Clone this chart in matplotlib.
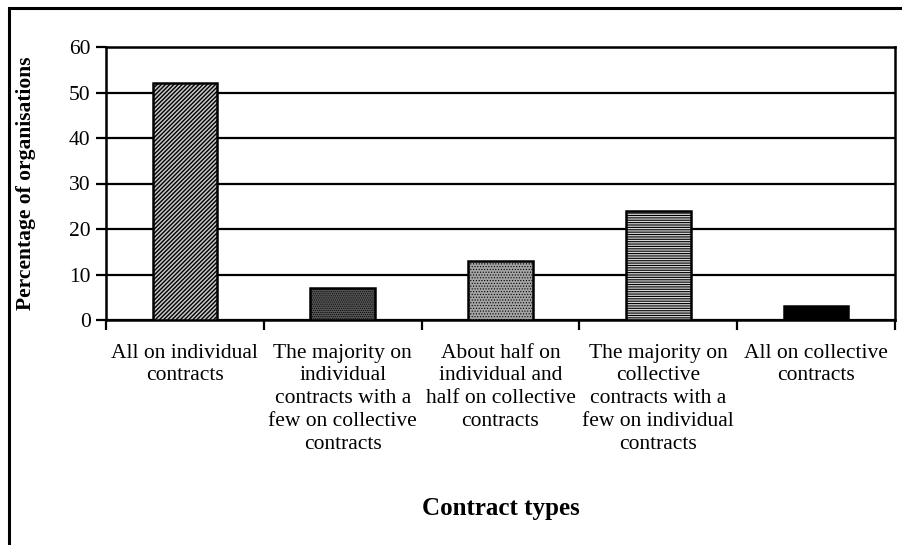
import matplotlib.pyplot as plt
from matplotlib.patches import Rectangle

# Survey result: share of organisations by contract arrangement
categories = [
    "All on individual\ncontracts",
    "The majority on\nindividual\ncontracts with a\nfew on collective\ncontracts",
    "About half on\nindividual and\nhalf on collective\ncontracts",
    "The majority on\ncollective\ncontracts with a\nfew on individual\ncontracts",
    "All on collective\ncontracts",
]
percentages = [52, 7, 13, 24, 3]
y_ticks = [0, 10, 20, 30, 40, 50, 60]

# fill / hatch per bar (black-and-white print style)
face_colors = ["#c8c8c8", "#555555", "#a4a4a4", "#d6d6d6", "black"]
hatches = ["////////", "........", "......", "-------", None]
hatch_widths = [1.0, 0.5, 0.5, 0.8, 0.5]

plt.rcParams["font.family"] = ["Liberation Serif", "DejaVu Serif"]
plt.rcParams["hatch.linewidth"] = 0.9

fig = plt.figure(figsize=(9.03, 5.45), dpi=100)
ax = fig.add_axes([106 / 903, 1 - 320 / 545, (895 - 106) / 903, (320 - 47) / 545])

x = list(range(len(categories)))
bars = ax.bar(x, percentages, width=0.41, color=face_colors, edgecolor="black",
              linewidth=1.8, zorder=3)
for bar, h, hw in zip(bars, hatches, hatch_widths):
    if h:
        bar.set_hatch(h)
        if hasattr(bar, "set_hatch_linewidth"):
            bar.set_hatch_linewidth(hw)

ax.set_xlim(-0.5, len(categories) - 0.5)
ax.set_ylim(0, 60)
ax.set_yticks(y_ticks)
ax.yaxis.grid(True, color="black", linewidth=1.6, zorder=1)
ax.set_axisbelow(True)

# labels centred under bars, tick marks on category boundaries
ax.set_xticks(x)
ax.set_xticklabels(categories, fontsize=15.5, linespacing=1.27)
ax.set_xticks([i - 0.5 for i in range(len(categories) + 1)], minor=True)
ax.tick_params(axis="x", which="major", length=0, pad=17)
ax.tick_params(axis="x", which="minor", length=7, width=1.6, direction="out")
ax.tick_params(axis="y", length=7, width=1.6, labelsize=15.5, pad=4)

for side in ["left", "right", "top", "bottom"]:
    ax.spines[side].set_linewidth(1.8)

ax.set_ylabel("Percentage of organisations", fontsize=15.5, fontweight="bold", labelpad=24)
ax.set_xlabel("Contract types", fontsize=18, fontweight="bold", labelpad=31)

# outer frame around the whole chart
fig.patches.append(Rectangle((9 / 903, -0.05), 1.0, 1 - 8 / 545 + 0.05,
                             transform=fig.transFigure, fill=False,
                             edgecolor="black", linewidth=2.2))

fig.savefig("out.png", dpi=100)
